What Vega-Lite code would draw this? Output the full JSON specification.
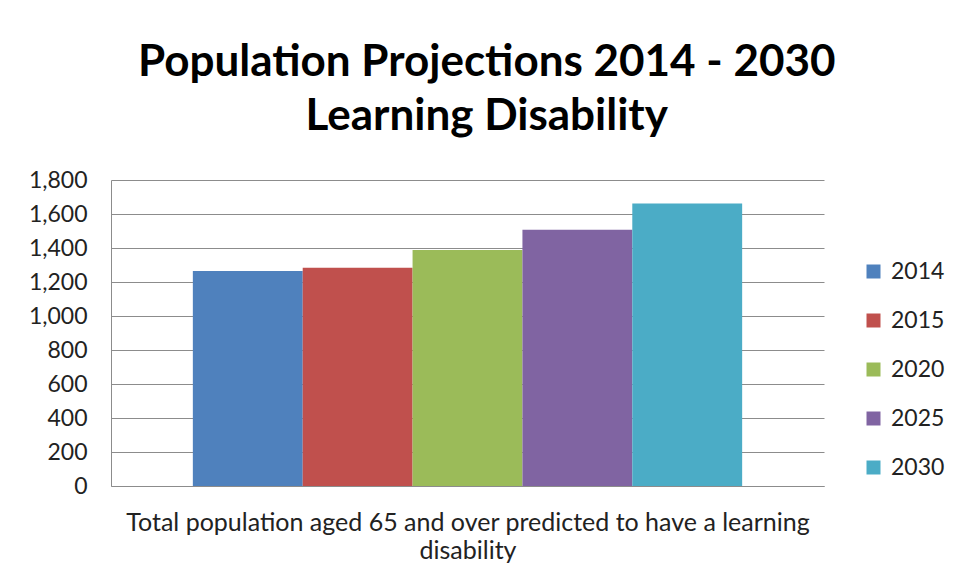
{
  "$schema": "https://vega.github.io/schema/vega-lite/v6.json",
  "width": 713,
  "height": 306,
  "autosize": {"type": "none"},
  "padding": {"left": 111, "top": 180, "right": 134, "bottom": 95},
  "background": "white",
  "title": {
    "text": ["Population Projections 2014 - 2030", "Learning Disability"],
    "font": "Lato",
    "fontSize": 44,
    "fontWeight": "bold",
    "color": "#000000",
    "anchor": "middle",
    "frame": "bounds",
    "lineHeight": 54,
    "offset": 30
  },
  "data": {
    "values": [
      {"year": "2014", "value": 1264},
      {"year": "2015", "value": 1284},
      {"year": "2020", "value": 1388},
      {"year": "2025", "value": 1508},
      {"year": "2030", "value": 1662}
    ]
  },
  "config": {"view": {"stroke": null}},
  "mark": {"type": "bar"},
  "encoding": {
    "x": {
      "field": "year",
      "type": "nominal",
      "sort": null,
      "scale": {"paddingInner": 0, "paddingOuter": 0.745},
      "axis": {
        "labels": false,
        "ticks": false,
        "domain": true,
        "domainColor": "#8c8c8c",
        "domainWidth": 1,
        "title": ["Total population aged 65 and over predicted to have a learning", "disability"],
        "titleFont": "Lato",
        "titleFontSize": 25,
        "titleFontWeight": "normal",
        "titleColor": "#222222",
        "titleLineHeight": 28,
        "titlePadding": 24
      }
    },
    "y": {
      "field": "value",
      "type": "quantitative",
      "scale": {"domain": [0, 1800], "nice": false},
      "axis": {
        "values": [0, 200, 400, 600, 800, 1000, 1200, 1400, 1600, 1800],
        "format": ",.0f",
        "title": null,
        "grid": true,
        "gridColor": "#8c8c8c",
        "gridWidth": 1,
        "domain": true,
        "domainColor": "#8c8c8c",
        "ticks": false,
        "labelFont": "Lato",
        "labelFontSize": 23,
        "labelColor": "#222222",
        "labelPadding": 24
      }
    },
    "color": {
      "field": "year",
      "type": "nominal",
      "sort": null,
      "scale": {"range": ["#4f81bd", "#c0504d", "#9bbb59", "#8064a2", "#4bacc6"]},
      "legend": {
        "title": null,
        "orient": "none",
        "legendX": 751,
        "legendY": 80,
        "symbolType": "square",
        "symbolSize": 196,
        "symbolStrokeWidth": 0,
        "labelFont": "Lato",
        "labelFontSize": 23,
        "labelColor": "#222222",
        "labelOffset": 6,
        "rowPadding": 25
      }
    }
  }
}
